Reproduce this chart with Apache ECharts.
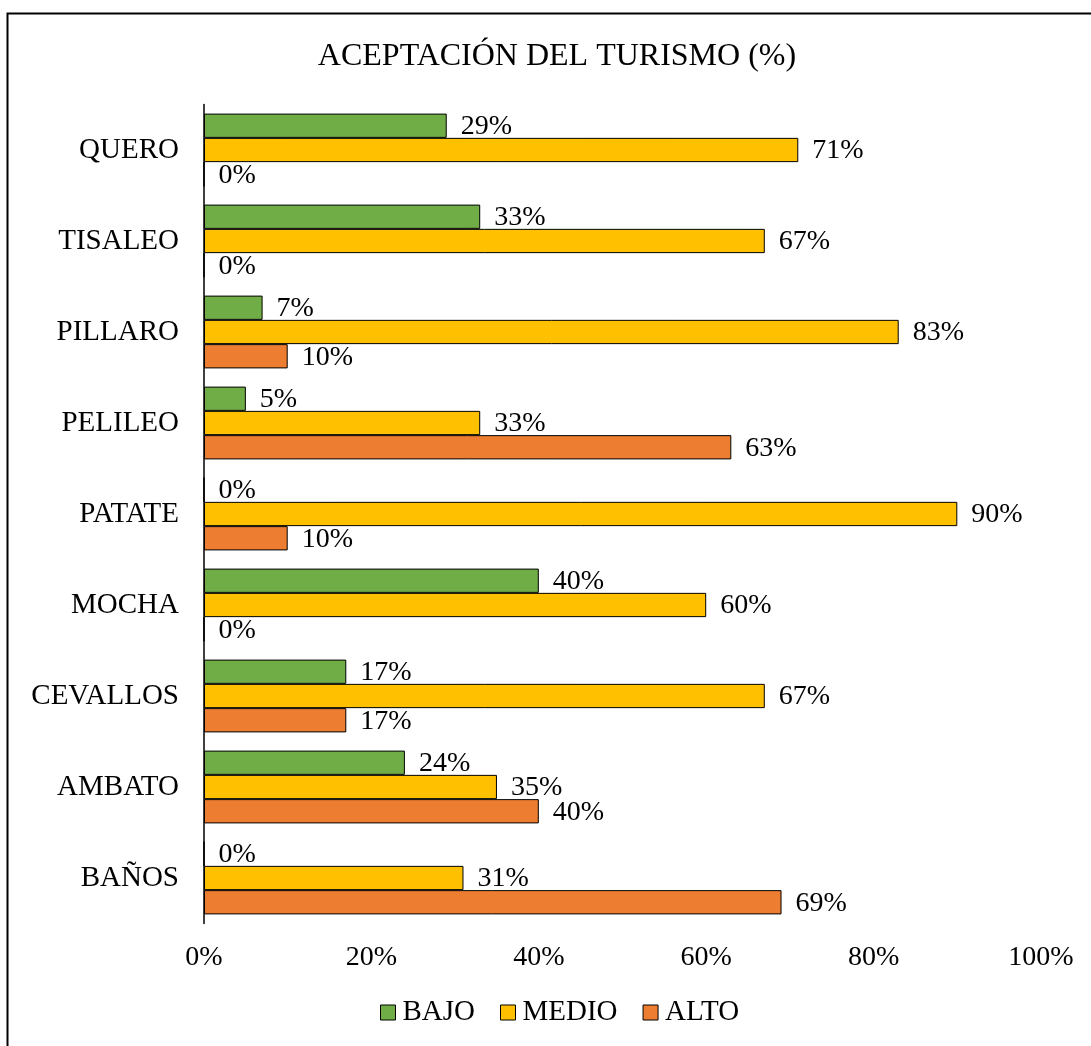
<!DOCTYPE html>
<html>
<head>
<meta charset="utf-8">
<script src="https://cdn.jsdelivr.net/npm/echarts@6/dist/echarts.min.js"></script>
<style>
  html, body { margin: 0; padding: 0; background: #fff; }
  #chart { width: 1091px; height: 1046px; }
</style>
</head>
<body>
<div id="chart"></div>
<script>
// datos (de abajo hacia arriba)
var cantones = ["BAÑOS", "AMBATO", "CEVALLOS", "MOCHA", "PATATE", "PELILEO", "PILLARO", "TISALEO", "QUERO"];
var bajo = [0, 24, 17, 40, 0, 5, 7, 33, 29];
var medio = [31, 35, 67, 60, 90, 33, 83, 67, 71];
var alto = [69, 40, 17, 0, 10, 63, 10, 0, 0];
var ticks = [0, 20, 40, 60, 80, 100];

var font = "'Liberation Serif', 'Times New Roman', serif";
var chart = echarts.init(document.getElementById("chart"));

function serie(name, data, color) {
  return {
    name: name,
    type: "bar",
    data: data,
    barGap: "0%",
    barCategoryGap: "20%",
    itemStyle: { color: color, borderColor: "#000", borderWidth: 1 },
    label: {
      show: true,
      position: "right",
      distance: 14,
      offset: [0, 1],
      formatter: "{c}%",
      fontFamily: font,
      fontSize: 28,
      color: "#000"
    }
  };
}

chart.setOption({
  animation: false,
  title: {
    text: "ACEPTACIÓN DEL TURISMO (%)",
    left: 552,
    textAlign: "center",
    top: 36,
    textStyle: { fontFamily: font, fontSize: 32, fontWeight: "normal", color: "#000" }
  },
  graphic: [{
    type: "rect",
    shape: { x: 7.5, y: 13.5, width: 1100, height: 1100 },
    style: { fill: "none", stroke: "#000", lineWidth: 2 },
    silent: true
  }],
  legend: {
    top: 998,
    left: 380,
    padding: 0,
    itemWidth: 15,
    itemHeight: 15,
    itemGap: 25,
    icon: "rect",
    itemStyle: { borderColor: "#000", borderWidth: 1 },
    textStyle: { fontFamily: font, fontSize: 29, color: "#000", padding: [0, 0, 0, 2] },
    data: ["BAJO", "MEDIO", "ALTO"]
  },
  grid: { left: 204, right: 50, top: 104.5, bottom: 122.5 },
  xAxis: {
    type: "value",
    min: 0,
    max: 100,
    interval: 20,
    axisLine: { show: false },
    axisTick: { show: false },
    splitLine: { show: false },
    axisLabel: {
      margin: 20,
      fontFamily: font,
      fontSize: 28,
      color: "#000",
      formatter: function (v) { return ticks.indexOf(v) >= 0 ? v + "%" : ""; }
    }
  },
  yAxis: {
    type: "category",
    data: cantones,
    axisLine: { show: true, lineStyle: { color: "#000", width: 1.5 } },
    axisTick: { show: false },
    axisLabel: { margin: 25, fontFamily: font, fontSize: 29, color: "#000" }
  },
  series: [
    serie("BAJO", bajo, "#70ad47"),
    serie("MEDIO", medio, "#ffc000"),
    serie("ALTO", alto, "#ed7d31")
  ]
});
</script>
</body>
</html>
